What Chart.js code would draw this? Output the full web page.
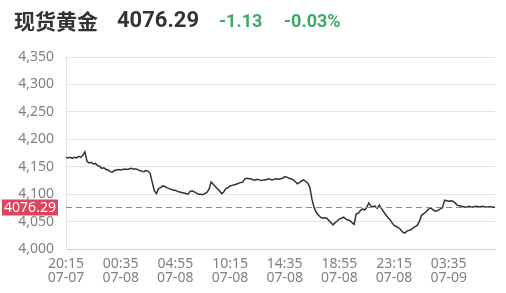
<!DOCTYPE html>
<html><head><meta charset="utf-8">
<script src="https://cdn.jsdelivr.net/npm/chart.js@4/dist/chart.umd.min.js"></script>
<style>
html,body{margin:0;padding:0;background:#fff;}
#wrap{position:relative;width:506px;height:293px;overflow:hidden;}
#c{position:absolute;left:0;top:0;}
.h{position:absolute;white-space:nowrap;font-weight:bold;line-height:1;}
#name{left:14px;top:10px;font-family:"Noto Sans CJK SC",sans-serif;font-size:21px;color:#333;}
#price{left:117px;top:9px;font-family:Roboto,sans-serif;font-size:22px;color:#333;}
#chg{left:219px;top:12px;font-family:Roboto,sans-serif;font-size:18px;color:#3cab67;}
#pct{left:284px;top:12px;font-family:Roboto,sans-serif;font-size:18px;color:#3cab67;}
</style></head>
<body><div id="wrap">
<canvas id="c" width="506" height="293"></canvas>
<div class="h" id="name">现货黄金</div>
<div class="h" id="price">4076.29</div>
<div class="h" id="chg">-1.13</div>
<div class="h" id="pct">-0.03%</div>
</div>
<script>
const currentPrice = 4076.29;
const tickLabels = [
  ['20:15','07-07'],['00:35','07-08'],['04:55','07-08'],['10:15','07-08'],
  ['14:35','07-08'],['18:55','07-08'],['23:15','07-08'],['03:35','07-09']
];
const yTicks = [4000,4050,4100,4150,4200,4250,4300,4350];
const prices = [
4167,4166,4167,4165,4167,4166,4169,4167,4171,4177,
4160,4157,4158,4155,4156,4152,4151,4147,4148,4145,
4144,4141,4140,4143,4144,4145,4144,4145,4146,4145,
4146,4147,4146,4146,4145,4143,4142,4141,4143,4142,
4138,4122,4106,4101,4110,4112,4115,4114,4112,4110,
4109,4107,4107,4105,4104,4103,4102,4101,4100,4105,
4106,4104,4102,4100,4100,4099,4101,4103,4109,4122,
4118,4114,4110,4106,4101,4104,4110,4112,4115,4116,
4117,4118,4120,4121,4122,4128,4129,4128,4128,4126,
4126,4127,4126,4125,4126,4126,4128,4127,4126,4127,
4128,4127,4128,4129,4132,4131,4129,4128,4126,4123,
4119,4121,4124,4126,4123,4120,4112,4090,4075,4067,
4062,4058,4056,4057,4056,4052,4048,4044,4048,4051,
4055,4056,4058,4055,4053,4052,4048,4045,4064,4065,
4070,4073,4071,4076,4084,4078,4077,4078,4074,4080,
4074,4068,4063,4058,4054,4048,4043,4041,4039,4036,
4031,4029,4032,4034,4035,4038,4041,4043,4050,4061,
4064,4067,4071,4075,4073,4070,4069,4071,4073,4075,
4089,4088,4087,4088,4087,4084,4080,4079,4078,4077,
4076,4077,4078,4076,4077,4078,4077,4077,4078,4077,
4076,4077,4077,4076,4076.29
];
const STEP = 26;
const categories = prices.map((_, i) => String(i));

const priceLine = {
  id: 'priceLine',
  afterDatasetsDraw(chart) {
    const {ctx, chartArea, scales} = chart;
    const y = Math.round(scales.y.getPixelForValue(currentPrice)) + 0.5;
    ctx.save();
    ctx.strokeStyle = '#8a8a8a';
    ctx.lineWidth = 1;
    ctx.setLineDash([6, 4]);
    ctx.beginPath();
    ctx.moveTo(chartArea.left, y);
    ctx.lineTo(chartArea.right, y);
    ctx.stroke();
    ctx.setLineDash([]);
    ctx.fillStyle = '#e2435c';
    ctx.fillRect(2, y - 8, 56, 16);
    ctx.fillStyle = '#fff';
    ctx.font = '14px "Noto Sans", sans-serif';
    ctx.textAlign = 'center';
    ctx.textBaseline = 'middle';
    ctx.fillText(currentPrice.toFixed(2), 30, y + 0.5);
    ctx.restore();
  }
};

new Chart(document.getElementById('c'), {
  type: 'line',
  data: {
    labels: categories,
    datasets: [{
      data: prices,
      borderColor: '#333333',
      borderWidth: 1.5,
      pointRadius: 0,
      tension: 0,
      fill: false
    }]
  },
  options: {
    responsive: false,
    animation: false,
    events: [],
    layout: {padding: {left: 0, right: 11, top: 57, bottom: 0}},
    plugins: {legend: {display: false}, tooltip: {enabled: false}},
    scales: {
      x: {
        type: 'category',
        offset: false,
        grid: {display: false, drawTicks: false},
        border: {display: true, color: '#cfcfcf'},
        ticks: {
          autoSkip: false, maxRotation: 0, minRotation: 0,
          padding: 9,
          color: '#808080',
          font: {family: '"Noto Sans", sans-serif', size: 14, lineHeight: 0.93},
          callback: (v, i) => (i % STEP === 0 && tickLabels[i / STEP]) ? tickLabels[i / STEP] : null
        },
        afterFit: s => { s.height = 44; }
      },
      y: {
        min: yTicks[0], max: yTicks[yTicks.length - 1],
        afterBuildTicks: s => { s.ticks = yTicks.map(v => ({value: v})); },
        grid: {color: '#e3e3e3', drawTicks: false},
        border: {display: true, color: '#e3e3e3'},
        ticks: {
          padding: 12,
          color: '#808080',
          font: {family: '"Noto Sans", sans-serif', size: 14},
          callback: v => v.toLocaleString('en-US')
        },
        afterFit: s => { s.width = 66; }
      }
    }
  },
  plugins: [priceLine]
});
</script>
</body></html>
